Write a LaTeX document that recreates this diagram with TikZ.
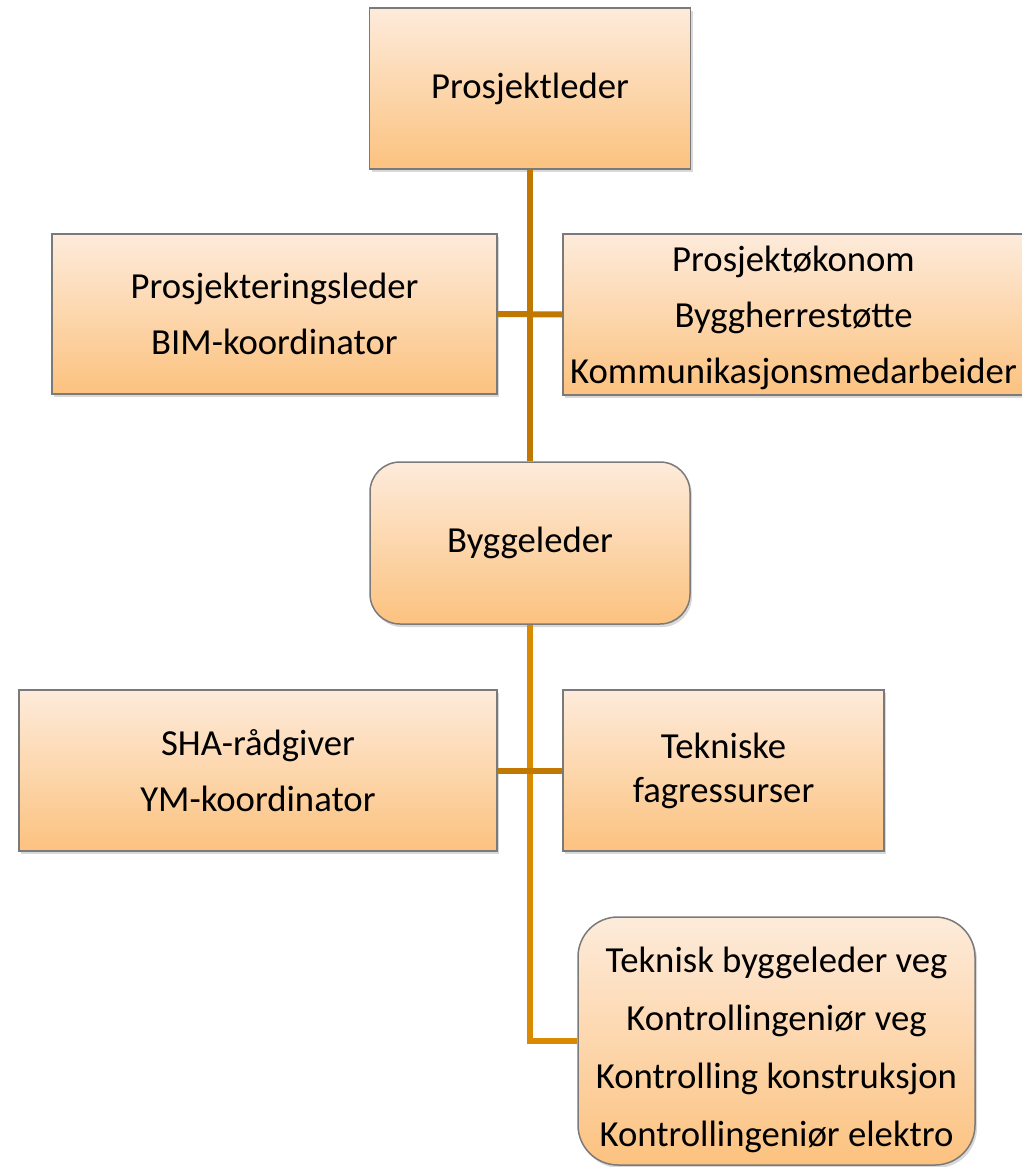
\documentclass[tikz,border=0pt]{standalone}
\usepackage{fontspec}
\setmainfont{Carlito}
\usetikzlibrary{shadows}
\definecolor{boxtop}{HTML}{FDEBDB}
\definecolor{boxbot}{HTML}{FCC27F}
\definecolor{boxline}{HTML}{7A7A7A}
\definecolor{conncol}{HTML}{C07800}
\definecolor{conncolb}{HTML}{D98A00}
\begin{document}
\begin{tikzpicture}[x=1pt,y=-1pt,
  orgbox/.style={draw=boxline, line width=1.5pt, top color=boxtop, bottom color=boxbot,
    drop shadow={opacity=0.3, shadow xshift=2pt, shadow yshift=-3pt},
    inner sep=0pt, align=center, font=\fontsize{36.7}{44}\selectfont, text=black},
  roundbox/.style={orgbox, rounded corners=30pt},
  connline/.style={draw=conncol, line width=6pt},
  connlineb/.style={draw=conncolb, line width=6pt, line join=miter}
]
\useasboundingbox (0,0) rectangle (1021,1167);

\node[orgbox, minimum width=321pt, minimum height=161pt] (pl) at (530,88.5) {Prosjektleder};
\node[orgbox, minimum width=445pt, minimum height=160pt] (pe) at (274.5,314) {Prosjekteringsleder\\[12pt]BIM-koordinator};
\node[orgbox, minimum width=461pt, minimum height=161pt] (po) at (793.5,314.5) {\rule{0pt}{33pt}Prosjektøkonom\\[12pt]Byggherrestøtte\\[12pt]Kommunikasjonsmedarbeider};
\node[roundbox, minimum width=320pt, minimum height=162pt] (bl) at (530,543) {Byggeleder};
\node[orgbox, minimum width=478pt, minimum height=161pt] (sha) at (258,770.5) {SHA-rådgiver\\[12pt]YM-koordinator};
\node[orgbox, minimum width=321pt, minimum height=161pt] (tf) at (723.5,770.5) {Tekniske\\fagressurser};
\node[roundbox, rounded corners=40pt, minimum width=397pt, minimum height=248pt] (tb) at (776.5,1041) {\rule{0pt}{44pt}Teknisk byggeleder veg\\[14pt]Kontrollingeniør veg\\[14pt]Kontrolling konstruksjon\\[14pt]Kontrollingeniør elektro};

\draw[connlineb] (bl.south) |- (tb.west);
\draw[connline] (pl.south) -- (bl.north);
\draw[connline] (pe.east) -- (po.west);
\draw[connline] (sha.east) -- (tf.west);
\end{tikzpicture}
\end{document}
